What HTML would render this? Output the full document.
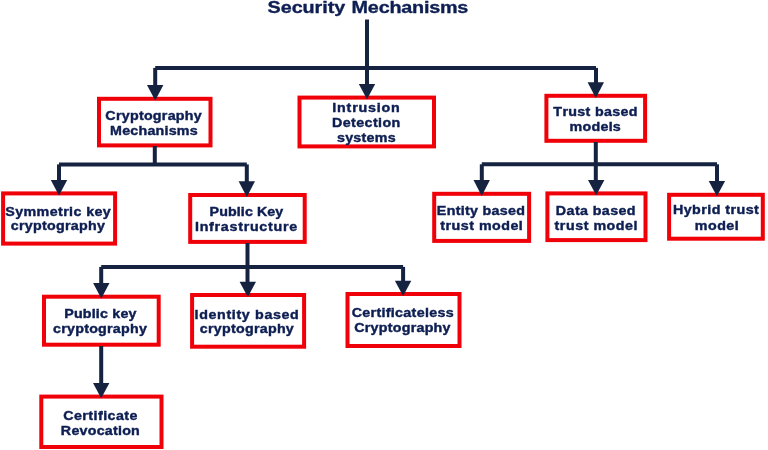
<!DOCTYPE html>
<html><head><meta charset="utf-8"><style>
html,body{margin:0;padding:0;background:#fff;width:768px;height:450px;overflow:hidden}
svg{display:block}
text{font-family:"Liberation Sans",sans-serif;font-weight:bold;font-variant-ligatures:none;font-feature-settings:"liga" 0,"kern" 0}
</style></head><body>
<svg width="768" height="450" viewBox="0 0 768 450">
<g fill="none" stroke="#f00008" stroke-width="4.0">
<rect x="99.00" y="98.80" width="111.50" height="46.60"/>
<rect x="299.50" y="97.60" width="134.50" height="48.80"/>
<rect x="546.40" y="95.80" width="98.70" height="45.00"/>
<rect x="3.10" y="193.40" width="112.00" height="50.20"/>
<rect x="190.20" y="195.00" width="114.50" height="46.90"/>
<rect x="434.20" y="193.80" width="94.90" height="47.10"/>
<rect x="547.40" y="193.40" width="98.10" height="46.70"/>
<rect x="669.10" y="194.80" width="93.70" height="43.90"/>
<rect x="44.00" y="296.70" width="114.70" height="48.00"/>
<rect x="192.10" y="295.00" width="112.00" height="51.70"/>
<rect x="347.50" y="294.00" width="112.00" height="52.00"/>
<rect x="41.30" y="396.60" width="120.20" height="50.40"/>
</g>
<g fill="none" stroke="#152340" stroke-width="4.0" stroke-linejoin="miter">
<path d="M367,19.5 L367,86"/>
<path d="M155.2,67.9 L596,67.9"/>
<path d="M155.2,67.9 L155.2,86"/>
<path d="M596,67.9 L596,83"/>
<path d="M154.8,146 L154.8,164.4"/>
<path d="M59,164.4 L246.8,164.4"/>
<path d="M59,164.4 L59,181"/>
<path d="M246.8,164.4 L246.8,182"/>
<path d="M595.8,142 L595.8,181"/>
<path d="M481.8,164.3 L717,164.3"/>
<path d="M481.8,164.3 L481.8,181"/>
<path d="M717,164.3 L717,182"/>
<path d="M247.5,243 L247.5,282.5"/>
<path d="M101.2,266.9 L403.1,266.9"/>
<path d="M101.2,266.9 L101.2,284"/>
<path d="M403.1,266.9 L403.1,281.5"/>
<path d="M101.2,346 L101.2,384"/>
</g>
<g fill="#152340">
<polygon points="147.00,85 163.40,85 155.2,100.5"/>
<polygon points="358.80,84.1 375.20,84.1 367,99.2"/>
<polygon points="587.60,82.3 604.00,82.3 595.8,97.9"/>
<polygon points="50.80,180 67.20,180 59,195.6"/>
<polygon points="238.60,181.3 255.00,181.3 246.8,196.9"/>
<polygon points="473.50,180 489.90,180 481.7,195.9"/>
<polygon points="588.00,179.9 604.40,179.9 596.2,195.3"/>
<polygon points="708.70,181 725.10,181 716.9,196.3"/>
<polygon points="93.10,283 109.50,283 101.3,298.5"/>
<polygon points="239.60,281.7 256.00,281.7 247.8,296.9"/>
<polygon points="394.90,280.7 411.30,280.7 403.1,296"/>
<polygon points="93.00,383 109.40,383 101.2,398.3"/>
</g>
<g fill="#0d1e52" stroke="#0d1e52" style="opacity:0.999">
<text transform="translate(267.61,12.90) scale(1.1500,1)" font-size="17.2" stroke-width="0.35" letter-spacing="-0.055">Security</text>
<text transform="translate(351.61,12.90) scale(1.1500,1)" font-size="17.2" stroke-width="0.35" letter-spacing="-0.186">Mechanisms</text>
<text transform="translate(105.36,119.60) scale(1.1500,1)" font-size="12.4" stroke-width="0.4" letter-spacing="0.226">Cryptography</text>
<text transform="translate(110.07,134.80) scale(1.1500,1)" font-size="12.4" stroke-width="0.4" letter-spacing="0.195">Mechanisms</text>
<text transform="translate(332.37,111.90) scale(1.1500,1)" font-size="12.4" stroke-width="0.4" letter-spacing="0.681">Intrusion</text>
<text transform="translate(331.97,127.00) scale(1.1500,1)" font-size="12.4" stroke-width="0.4" letter-spacing="0.369">Detection</text>
<text transform="translate(337.00,142.20) scale(1.1500,1)" font-size="12.4" stroke-width="0.4" letter-spacing="0.218">systems</text>
<text transform="translate(553.34,115.50) scale(1.1500,1)" font-size="12.4" stroke-width="0.4" letter-spacing="0.292">Trust based</text>
<text transform="translate(569.62,130.75) scale(1.1500,1)" font-size="12.4" stroke-width="0.4" letter-spacing="0.215">models</text>
<text transform="translate(5.21,216.00) scale(1.1500,1)" font-size="12.4" stroke-width="0.4" letter-spacing="0.357">Symmetric key</text>
<text transform="translate(10.70,230.40) scale(1.1500,1)" font-size="12.4" stroke-width="0.4" letter-spacing="0.244">cryptography</text>
<text transform="translate(209.57,215.70) scale(1.1500,1)" font-size="12.4" stroke-width="0.4" letter-spacing="0.080">Public Key</text>
<text transform="translate(194.97,231.30) scale(1.1500,1)" font-size="12.4" stroke-width="0.4" letter-spacing="0.633">Infrastructure</text>
<text transform="translate(436.87,215.00) scale(1.1500,1)" font-size="12.4" stroke-width="0.4" letter-spacing="0.255">Entity based</text>
<text transform="translate(440.34,230.40) scale(1.1500,1)" font-size="12.4" stroke-width="0.4" letter-spacing="0.422">trust model</text>
<text transform="translate(555.87,214.50) scale(1.1500,1)" font-size="12.4" stroke-width="0.4" letter-spacing="0.346">Data based</text>
<text transform="translate(554.59,230.00) scale(1.1500,1)" font-size="12.4" stroke-width="0.4" letter-spacing="0.457">trust model</text>
<text transform="translate(672.97,214.10) scale(1.1500,1)" font-size="12.4" stroke-width="0.4" letter-spacing="0.397">Hybrid trust</text>
<text transform="translate(694.87,229.75) scale(1.1500,1)" font-size="12.4" stroke-width="0.4" letter-spacing="0.406">model</text>
<text transform="translate(64.17,317.70) scale(1.1500,1)" font-size="12.4" stroke-width="0.4" letter-spacing="0.174">Public key</text>
<text transform="translate(53.00,332.90) scale(1.1500,1)" font-size="12.4" stroke-width="0.4" letter-spacing="0.221">cryptography</text>
<text transform="translate(194.57,318.60) scale(1.1500,1)" font-size="12.4" stroke-width="0.4" letter-spacing="0.561">Identity based</text>
<text transform="translate(199.80,332.50) scale(1.1500,1)" font-size="12.4" stroke-width="0.4" letter-spacing="0.228">cryptography</text>
<text transform="translate(351.76,317.10) scale(1.1500,1)" font-size="12.4" stroke-width="0.4" letter-spacing="0.269">Certificateless</text>
<text transform="translate(354.26,331.70) scale(1.1500,1)" font-size="12.4" stroke-width="0.4" letter-spacing="0.219">Cryptography</text>
<text transform="translate(63.26,419.60) scale(1.1500,1)" font-size="12.4" stroke-width="0.4" letter-spacing="0.386">Certificate</text>
<text transform="translate(60.87,434.70) scale(1.1500,1)" font-size="12.4" stroke-width="0.4" letter-spacing="0.203">Revocation</text>
</g></svg></body></html>
